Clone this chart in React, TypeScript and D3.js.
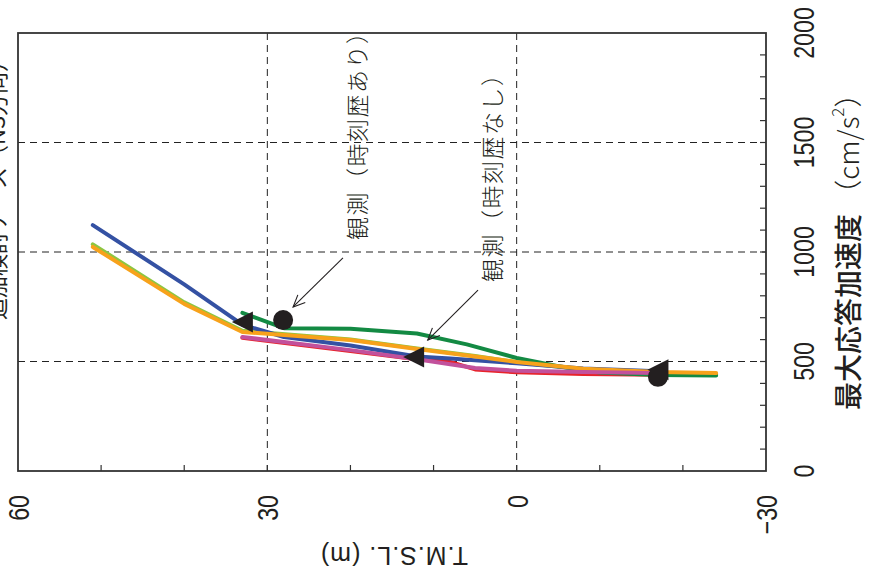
import { useEffect, useRef } from 'react';
import * as d3 from 'd3';

// Page / plot geometry (the chart is drawn rotated: depth runs left→right, acceleration bottom→top)
const WIDTH = 871;
const HEIGHT = 584;
const PLOT = { left: 18, right: 766, top: 33, bottom: 471 };

// Axis ticks
const depthTicks = [60, 30, 0, -30];
const depthTickLabels = ['60', '30', '0', '\u221230'];
const depthMinorTicks = [50, 40, 30, 20, 10, 0, -10, -20];
const accTicks = [0, 500, 1000, 1500, 2000];
const accMinorTicks = d3.range(100, 2000, 100);
const accGrid = [500, 1000, 1500];
const depthGrid = [30, 0];

// Series: T.M.S.L. (m) and max response acceleration (cm/s^2)
const lightGreenDepth = [51, 40, 33, 20, 12, 5, 0, -8, -17, -24];
const lightGreenAcc = [1035, 770, 640, 600, 560, 525, 497, 465, 446, 440];

const redDepth = [33, 20, 12, 8, 5, 0, -8, -17];
const redAcc = [608, 548, 510, 498, 464, 451, 443, 440];

const greenDepth = [33, 28, 20, 12, 6, 0, -5, -10, -17, -24];
const greenAcc = [722, 652, 650, 628, 578, 516, 478, 450, 438, 436];

const blueDepth = [51, 40, 33, 28, 20, 12, 8, 0, -8, -17];
const blueAcc = [1123, 852, 668, 612, 573, 523, 514, 492, 468, 456];

const orangeDepth = [51, 40, 33, 20, 12, 5, 0, -8, -17, -24];
const orangeAcc = [1023, 763, 635, 598, 557, 523, 498, 467, 452, 447];

const magentaDepth = [33, 20, 12, 5, 0, -8, -17];
const magentaAcc = [612, 552, 510, 470, 458, 452, 447];

// Observations
const obsHistoryDepth = [28.1, -17];
const obsHistoryAcc = [689, 430];
const obsNoHistoryDepth = [33, 12.4, -17];
const obsNoHistoryAcc = [680, 520, 462];

const COLORS = {
  lightGreen: '#8dc641',
  red: '#e8232b',
  green: '#138a43',
  blue: '#3451a3',
  orange: '#f7a21b',
  magenta: '#c2519c',
  marker: '#231f20',
  frame: '#333333',
  text: '#231f20',
};

const SERIES = [
  { key: 'lightGreen', depth: lightGreenDepth, acc: lightGreenAcc, color: COLORS.lightGreen },
  { key: 'red', depth: redDepth, acc: redAcc, color: COLORS.red },
  { key: 'green', depth: greenDepth, acc: greenAcc, color: COLORS.green },
  { key: 'blue', depth: blueDepth, acc: blueAcc, color: COLORS.blue },
  { key: 'orange', depth: orangeDepth, acc: orangeAcc, color: COLORS.orange },
  { key: 'magenta', depth: magentaDepth, acc: magentaAcc, color: COLORS.magenta },
];

// Annotations (data coordinates)
const annotations = [
  { text: '観測（時刻歴あり）', depth: 19.3, acc: 1055, from: [20.9, 973], to: [26.9, 749] },
  { text: '観測（時刻歴なし）', depth: 3.1, acc: 863, from: [4.65, 826], to: [10.7, 598] },
];

const NUM_FONT = "'Liberation Sans', Arial, sans-serif";
const JP_FONT = "'Noto Sans CJK JP', 'Noto Sans', sans-serif";

export default function App() {
  const svgRef = useRef<SVGSVGElement>(null);

  useEffect(() => {
    if (!svgRef.current) return;
    const svg = d3.select(svgRef.current);
    svg.selectAll('*').remove();

    const x = d3.scaleLinear().domain([60, -30]).range([PLOT.left, PLOT.right]);
    const y = d3.scaleLinear().domain([0, 2000]).range([PLOT.bottom, PLOT.top]);

    // Grid
    const grid = svg.append('g')
      .attr('stroke', '#222')
      .attr('stroke-width', 1)
      .attr('stroke-dasharray', '7,5');
    accGrid.forEach((a) => {
      grid.append('line')
        .attr('x1', PLOT.left).attr('x2', PLOT.right)
        .attr('y1', y(a)).attr('y2', y(a));
    });
    depthGrid.forEach((d) => {
      grid.append('line')
        .attr('x1', x(d)).attr('x2', x(d))
        .attr('y1', PLOT.top).attr('y2', PLOT.bottom);
    });

    // Ticks (inside)
    const ticks = svg.append('g').attr('stroke', COLORS.frame).attr('stroke-width', 1.2);
    depthMinorTicks.forEach((d) => {
      ticks.append('line')
        .attr('x1', x(d)).attr('x2', x(d))
        .attr('y1', PLOT.bottom).attr('y2', PLOT.bottom - 6);
    });
    accMinorTicks.forEach((a) => {
      ticks.append('line')
        .attr('x1', PLOT.right).attr('x2', PLOT.right - 6)
        .attr('y1', y(a)).attr('y2', y(a));
    });

    // Lines
    const line = d3.line<[number, number]>()
      .x((p) => x(p[0]))
      .y((p) => y(p[1]));

    SERIES.forEach((s) => {
      const pts = s.depth.map((d, i) => [d, s.acc[i]] as [number, number]);
      svg.append('path')
        .attr('d', line(pts))
        .attr('fill', 'none')
        .attr('stroke', s.color)
        .attr('stroke-width', 4)
        .attr('stroke-linejoin', 'round')
        .attr('stroke-linecap', 'round');
    });

    // Markers
    obsNoHistoryDepth.forEach((d, i) => {
      svg.append('path')
        .attr('transform', `translate(${x(d)},${y(obsNoHistoryAcc[i])})`)
        .attr('d', 'M-10.5,0L10.5,-10.5L10.5,10.5Z')
        .attr('fill', COLORS.marker);
    });
    obsHistoryDepth.forEach((d, i) => {
      svg.append('circle')
        .attr('cx', x(d))
        .attr('cy', y(obsHistoryAcc[i]))
        .attr('r', 10)
        .attr('fill', COLORS.marker);
    });

    // Frame
    svg.append('rect')
      .attr('x', PLOT.left).attr('y', PLOT.top)
      .attr('width', PLOT.right - PLOT.left)
      .attr('height', PLOT.bottom - PLOT.top)
      .attr('fill', 'none')
      .attr('stroke', COLORS.frame)
      .attr('stroke-width', 1.8);

    // Annotations: arrows + rotated text
    annotations.forEach((a) => {
      const x1 = x(a.from[0]);
      const y1 = y(a.from[1]);
      const x2 = x(a.to[0]);
      const y2 = y(a.to[1]);
      const ang = Math.atan2(y2 - y1, x2 - x1);
      const head = 13;
      const spread = 0.42;
      const g = svg.append('g').attr('stroke', COLORS.text).attr('stroke-width', 1.1).attr('fill', 'none');
      g.append('line').attr('x1', x1).attr('y1', y1).attr('x2', x2).attr('y2', y2);
      g.append('path')
        .attr('d', `M${x2 - head * Math.cos(ang - spread)},${y2 - head * Math.sin(ang - spread)}L${x2},${y2}L${x2 - head * Math.cos(ang + spread)},${y2 - head * Math.sin(ang + spread)}`);

      svg.append('text')
        .attr('transform', `translate(${x(a.depth)},${y(a.acc)}) rotate(-90)`)
        .attr('text-anchor', 'start')
        .attr('dominant-baseline', 'central')
        .attr('font-family', JP_FONT)
        .attr('font-weight', 300)
        .attr('font-size', 23)
        .attr('letter-spacing', 1.5)
        .attr('fill', COLORS.text)
        .text(a.text);
    });

    // Depth tick labels (below plot, rotated)
    depthTicks.forEach((d, i) => {
      svg.append('text')
        .attr('transform', `translate(${x(d) + 1},${PLOT.bottom + 24}) rotate(-90) scale(0.8,1)`)
        .attr('text-anchor', 'end')
        .attr('dominant-baseline', 'central')
        .attr('font-family', NUM_FONT)
        .attr('font-size', 29)
        .attr('fill', COLORS.text)
        .text(depthTickLabels[i]);
    });

    // Acceleration tick labels (right, rotated)
    accTicks.forEach((a) => {
      svg.append('text')
        .attr('transform', `translate(${PLOT.right + 38},${y(a)}) rotate(-90) scale(0.8,1)`)
        .attr('text-anchor', 'middle')
        .attr('dominant-baseline', 'central')
        .attr('font-family', NUM_FONT)
        .attr('font-size', 29)
        .attr('fill', COLORS.text)
        .text(String(a));
    });

    // Acceleration axis title
    const accTitle = svg.append('text')
      .attr('transform', `translate(${PLOT.right + 81},${PLOT.bottom - 61}) rotate(-90)`)
      .attr('text-anchor', 'start')
      .attr('dominant-baseline', 'central')
      .attr('font-family', JP_FONT)
      .attr('font-size', 28)
      .attr('fill', COLORS.text);
    accTitle.append('tspan').attr('font-weight', 500).text('最大応答加速度 ');
    accTitle.append('tspan').attr('font-weight', 300).text('（cm/s');
    accTitle.append('tspan').attr('font-weight', 300).attr('font-size', 17).attr('dy', -11).text('2');
    accTitle.append('tspan').attr('font-weight', 300).attr('dy', 11).text('）');

    // Depth axis title (upside down)
    svg.append('text')
      .attr('transform', `translate(${(PLOT.left + PLOT.right) / 2 + 2},556) rotate(180)`)
      .attr('text-anchor', 'middle')
      .attr('dominant-baseline', 'central')
      .attr('font-family', NUM_FONT)
      .attr('font-size', 25)
      .attr('letter-spacing', 1)
      .attr('fill', COLORS.text)
      .text('T.M.S.L. (m)');

    // Chart title, clipped at the page edge
    svg.append('text')
      .attr('transform', 'translate(5,320) rotate(-90)')
      .attr('text-anchor', 'start')
      .attr('font-family', JP_FONT)
      .attr('font-size', 22)
      .attr('fill', COLORS.text)
      .text('追加検討ケース（NS方向）');
  }, []);

  return (
    <div style={{ position: 'absolute', left: 0, top: 0 }}>
      <svg ref={svgRef} width={WIDTH} height={HEIGHT} style={{ display: 'block', background: '#fff' }} />
    </div>
  );
}
